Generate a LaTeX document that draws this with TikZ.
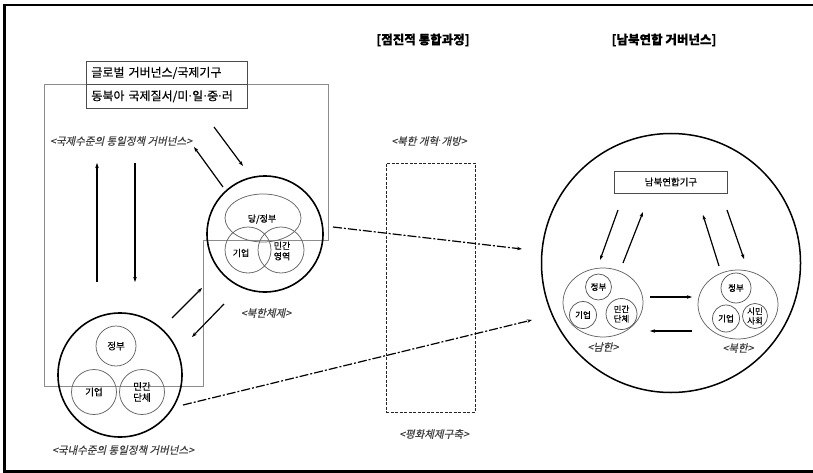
\documentclass[tikz,border=0pt]{standalone}
\usepackage{fontspec}
\setmainfont[FakeBold=0.3]{Noto Sans CJK KR}
\newfontfamily\krit[FakeSlant=0.22,FakeBold=0.4]{Noto Sans CJK KR}
\newfontfamily\dvmid{DejaVu Sans}
\newcommand{\mdot}{{\dvmid ·}}
\usetikzlibrary{arrows.meta,shapes.geometric}
\begin{document}
\begin{tikzpicture}[x=1pt,y=-1pt,
  big/.style={circle,draw=black,line width=1.6pt,inner sep=0pt},
  sub/.style={circle,draw=black!60,line width=0.75pt,inner sep=0pt,align=center,font=\fontsize{9.5}{11}\selectfont},
  subtwo/.style={circle,draw=black!65,line width=0.75pt,inner sep=0pt,align=center,font=\fontsize{8.5}{9.5}\selectfont},
  subell/.style={ellipse,draw=black!60,line width=0.75pt,inner sep=0pt},
  intext/.style={inner sep=0pt,align=center,font=\fontsize{9}{10.5}\selectfont},
  lab/.style={font=\krit\fontsize{10.5}{12}\selectfont,text=black!75,inner sep=0pt},
  ttl/.style={font=\bfseries\fontsize{12.5}{14}\selectfont,inner sep=0pt},
  arr/.style={line width=1.2pt,-{Stealth[length=5pt,width=3.5pt]}},
  dd/.style={line width=1.2pt,dash pattern=on 9pt off 2pt on 2pt off 2pt,-{Stealth[length=5pt,width=3.5pt]}},
  box/.style={draw=black!70,line width=0.8pt,fill=white,inner sep=0pt}
]
\useasboundingbox (0,0) rectangle (813,473);
% frame
\draw[line width=2.5pt] (813,5) -- (4.5,5) -- (4.5,471.5) -- (813,471.5);

% gray L-shaped region
\draw[black!45,line width=0.8pt] (44,84) -- (328,84) -- (328,240) -- (203,240) -- (203,386) -- (44,386) -- cycle;

% top box
\node[box,anchor=north west,minimum width=161pt,minimum height=23pt,text width=151pt,align=left,inner xsep=5pt,font=\fontsize{12}{12}\selectfont] (glob) at (86,61) {글로벌 거버넌스/국제기구};
\node[box,anchor=north west,minimum width=161pt,minimum height=24pt,text width=151pt,align=left,inner xsep=5pt,font=\fontsize{12}{12}\selectfont] (ne) at (86,84) {동북아 국제질서/미\mdot 일\mdot 중\mdot 러};

\node[lab] (lintl) at (121,141) {<국제수준의 통일정책 거버넌스>};

% North Korea system
\node[big,minimum size=116pt] (nk) at (265,234) {};
\node[subell,minimum width=76pt,minimum height=48pt] (party) at (263,218) {};
\node[sub,minimum size=46pt] (nkent) at (248,250) {};
\node[sub,minimum size=46pt] (nkciv) at (281,250) {};
\node[intext] (partyt) at (262,219) {당/정부};
\node[intext] (nkentt) at (241,253) {기업};
\node[intext] (nkcivt) at (282,251) {민간\\영역};
\node[lab] (nklab) at (266,313) {<북한체제>};

% South Korea domestic
\node[big,minimum size=124pt] (sk) at (120,375) {};
\node[sub,minimum size=40pt] (skgov) at (116,346) {정부};
\node[sub,minimum size=45pt] (skent) at (94,392) {기업};
\node[sub,minimum size=45pt] (skciv) at (142,392) {민간\\단체};
\node[lab] (sklab) at (123,450) {<국내수준의 통일정책 거버넌스>};

% titles
\node[ttl] (t1) at (423,40) {[점진적 통합과정]};
\node[ttl] (t2) at (664,40) {[남북연합 거버넌스]};
\node[lab] (reform) at (429,141) {<북한 개혁\mdot 개방>};
\node[lab] (peace) at (434,434) {<평화체제구축>};
\node[draw=black!85,line width=0.75pt,dash pattern=on 3pt off 1.5pt,minimum width=89pt,minimum height=249pt,inner sep=0pt] (proc) at (430.5,287.5) {};

% confederation
\node[big,line width=1.5pt,minimum size=259pt] (conf) at (671,263) {};
\node[box,minimum width=113pt,minimum height=22pt,font=\fontsize{9.5}{10}\selectfont] (org) at (671,182) {남북연합기구};

\node[subell,minimum width=80pt,minimum height=69pt] (sgrp) at (603,302.5) {};
\node[subtwo,minimum size=26pt] (sgov) at (598.5,287) {정부};
\node[subtwo,minimum size=27pt] (sent) at (583,315) {기업};
\node[subtwo,minimum size=31pt] (sciv) at (621.5,314) {민간\\단체};
\node[lab] (slab) at (603,347) {<남한>};

\node[subell,minimum width=80pt,minimum height=69pt] (ngrp) at (738,304.5) {};
\node[subtwo,minimum size=30pt] (ngov) at (736,288) {정부};
\node[subtwo,minimum size=27pt] (nent) at (726,318.5) {기업};
\node[subtwo,minimum size=25pt] (nciv) at (755,316) {시민\\사회};
\node[lab] (nlab) at (738,348) {<북한>};

% arrow end points
\coordinate (a1s) at (97,282);  \coordinate (a1e) at (97,163);
\coordinate (a2s) at (135,163); \coordinate (a2e) at (135,282);
\coordinate (a3s) at (223,187); \coordinate (a3e) at (194,147);
\coordinate (a4s) at (214,127); \coordinate (a4e) at (243,166);
\coordinate (a5s) at (172,318); \coordinate (a5e) at (202,288);
\coordinate (a6s) at (224,304); \coordinate (a6e) at (192,337);
\coordinate (r1s) at (618,210); \coordinate (r1e) at (600,260);
\coordinate (r2s) at (623,263); \coordinate (r2e) at (643,212);
\coordinate (r3s) at (719,266); \coordinate (r3e) at (703,215);
\coordinate (r4s) at (727,210); \coordinate (r4e) at (744,259);
\coordinate (h1s) at (650,297); \coordinate (h1e) at (692,297);
\coordinate (h2s) at (692,331); \coordinate (h2e) at (650,331);
\coordinate (d1s) at (333,227); \coordinate (d1e) at (522,249);
\coordinate (d2s) at (183,405); \coordinate (d2e) at (532,320);

\foreach \p in {a1,a2,a3,a4,a5,a6,r1,r2,r3,r4,h1,h2}{\draw[arr] (\p s) -- (\p e);}
\draw[dd] (d1s) -- (d1e);
\draw[dd] (d2s) -- (d2e);
\end{tikzpicture}
\end{document}
